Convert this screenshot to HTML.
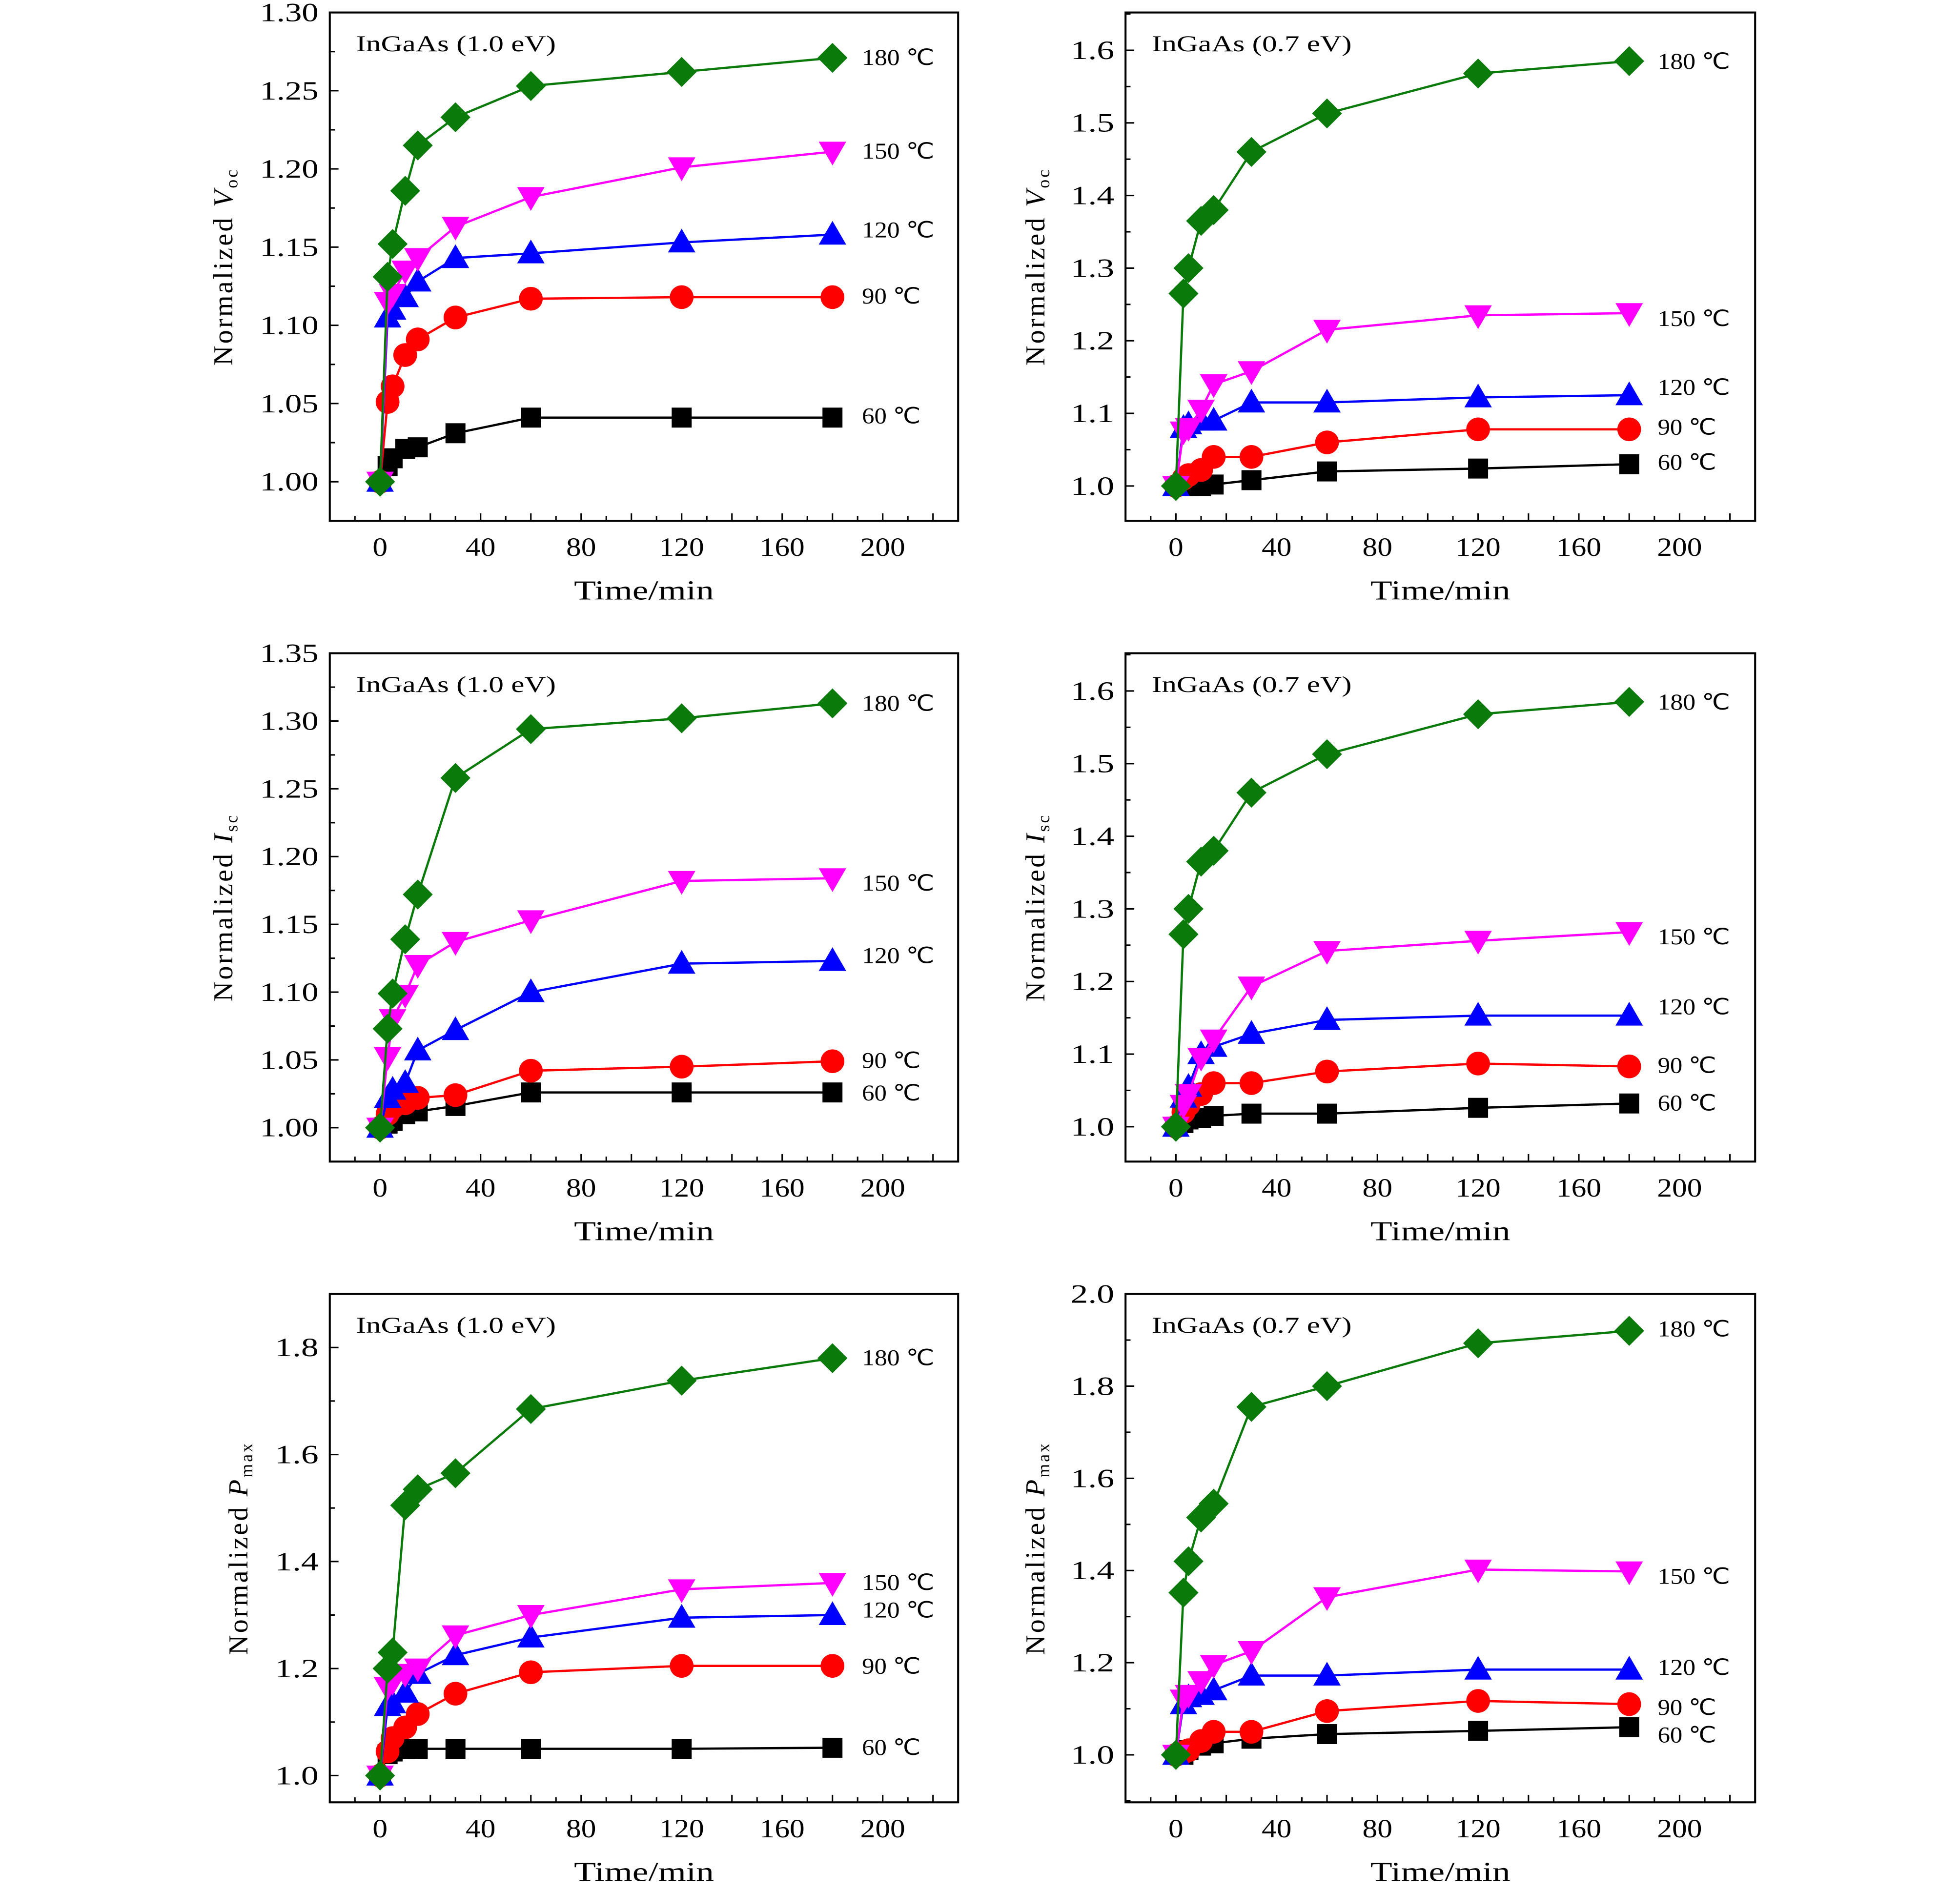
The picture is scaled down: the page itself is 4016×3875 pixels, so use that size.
<!DOCTYPE html>
<html><head><meta charset="utf-8"><style>
html,body{margin:0;padding:0;background:#fff;}
svg{display:block;}
text{font-family:"Liberation Serif",serif;fill:#000;}
</style></head><body>
<svg id="chart" xmlns="http://www.w3.org/2000/svg" width="4016" height="3875" viewBox="0 0 1569 1514" preserveAspectRatio="none"></svg>
<script>
const times = [0, 3, 5, 10, 15, 30, 60, 120, 180];
const seriesNames = ["60 ℃", "90 ℃", "120 ℃", "150 ℃", "180 ℃"];
const xTicks = [0, 40, 80, 120, 160, 200];
// Panel 1: Voc, 1.0 eV
const p1_60 = [1.00, 1.010, 1.015, 1.021, 1.022, 1.031, 1.041, 1.041, 1.041];
const p1_90 = [1.00, 1.051, 1.061, 1.081, 1.091, 1.105, 1.117, 1.118, 1.118];
const p1_120 = [1.00, 1.105, 1.110, 1.118, 1.128, 1.143, 1.146, 1.153, 1.158];
const p1_150 = [1.00, 1.115, 1.120, 1.135, 1.143, 1.163, 1.182, 1.201, 1.211];
const p1_180 = [1.00, 1.131, 1.152, 1.186, 1.215, 1.233, 1.253, 1.262, 1.271];
const p1_yTicks = [1.00, 1.05, 1.10, 1.15, 1.20, 1.25, 1.30];
// Panel 2: Voc, 0.7 eV
const p2_60 = [1.00, 1.00, 1.00, 1.000, 1.002, 1.008, 1.020, 1.024, 1.030];
const p2_90 = [1.00, 1.010, 1.015, 1.022, 1.040, 1.040, 1.060, 1.078, 1.078];
const p2_120 = [1.00, 1.080, 1.085, 1.090, 1.090, 1.115, 1.115, 1.122, 1.125];
const p2_150 = [1.00, 1.075, 1.080, 1.105, 1.140, 1.158, 1.215, 1.235, 1.238];
const p2_180 = [1.00, 1.265, 1.300, 1.365, 1.380, 1.460, 1.513, 1.568, 1.585];
const p2_yTicks = [1.0, 1.1, 1.2, 1.3, 1.4, 1.5, 1.6];
// Panel 3: Isc, 1.0 eV
const p3_60 = [1.00, 1.003, 1.005, 1.010, 1.012, 1.016, 1.026, 1.026, 1.026];
const p3_90 = [1.00, 1.010, 1.015, 1.018, 1.022, 1.024, 1.042, 1.045, 1.049];
const p3_120 = [1.00, 1.022, 1.028, 1.033, 1.057, 1.072, 1.100, 1.121, 1.123];
const p3_150 = [1.00, 1.052, 1.080, 1.098, 1.120, 1.137, 1.153, 1.182, 1.184];
const p3_180 = [1.00, 1.073, 1.099, 1.139, 1.172, 1.258, 1.294, 1.302, 1.313];
const p3_yTicks = [1.00, 1.05, 1.10, 1.15, 1.20, 1.25, 1.30, 1.35];
// Panel 4: Isc, 0.7 eV
const p4_60 = [1.00, 1.005, 1.010, 1.012, 1.015, 1.018, 1.018, 1.026, 1.032];
const p4_90 = [1.00, 1.020, 1.030, 1.045, 1.060, 1.060, 1.076, 1.087, 1.083];
const p4_120 = [1.00, 1.040, 1.055, 1.100, 1.110, 1.128, 1.147, 1.153, 1.153];
const p4_150 = [1.00, 1.030, 1.045, 1.095, 1.120, 1.193, 1.242, 1.256, 1.268];
const p4_180 = [1.00, 1.265, 1.300, 1.365, 1.380, 1.460, 1.513, 1.568, 1.585];
const p4_yTicks = [1.0, 1.1, 1.2, 1.3, 1.4, 1.5, 1.6];
// Panel 5: Pmax, 1.0 eV
const p5_60 = [1.00, 1.040, 1.045, 1.050, 1.050, 1.050, 1.050, 1.050, 1.052];
const p5_90 = [1.00, 1.045, 1.070, 1.090, 1.115, 1.153, 1.193, 1.205, 1.205];
const p5_120 = [1.00, 1.130, 1.135, 1.155, 1.190, 1.225, 1.258, 1.295, 1.300];
const p5_150 = [1.00, 1.165, 1.175, 1.190, 1.200, 1.262, 1.300, 1.348, 1.360];
const p5_180 = [1.00, 1.200, 1.230, 1.505, 1.535, 1.565, 1.685, 1.738, 1.780];
const p5_yTicks = [1.0, 1.2, 1.4, 1.6, 1.8];
// Panel 6: Pmax, 0.7 eV
const p6_60 = [1.00, 1.000, 1.010, 1.020, 1.025, 1.035, 1.045, 1.052, 1.060];
const p6_90 = [1.00, 1.005, 1.010, 1.030, 1.050, 1.050, 1.095, 1.117, 1.110];
const p6_120 = [1.00, 1.110, 1.125, 1.130, 1.140, 1.172, 1.172, 1.185, 1.185];
const p6_150 = [1.00, 1.120, 1.130, 1.160, 1.195, 1.225, 1.342, 1.402, 1.398];
const p6_180 = [1.00, 1.352, 1.420, 1.515, 1.545, 1.755, 1.800, 1.893, 1.920];
const p6_yTicks = [1.0, 1.2, 1.4, 1.6, 1.8, 2.0];

const colors = ["#000000", "#ff0000", "#0000ff", "#ff00ff", "#0a7a0a"];
const shapes = ["square", "circle", "up", "down", "diamond"];
const NS = "http://www.w3.org/2000/svg";
const svg = document.getElementById("chart");

const panels = [
  {x0:264, x1:767, y0:10, y1:417, ymin:0.975, ymax:1.30, dec:2, minorStep:0.025, ylab:"V", sub:"oc", title:"InGaAs (1.0 eV)", series:[p1_60,p1_90,p1_120,p1_150,p1_180], ticks:p1_yTicks, lab:[333,237,184,121,46], name:"voc-1ev"},
  {x0:901, x1:1405, y0:10, y1:417, ymin:0.952, ymax:1.652, dec:1, minorStep:0.05, ylab:"V", sub:"oc", title:"InGaAs (0.7 eV)", series:[p2_60,p2_90,p2_120,p2_150,p2_180], ticks:p2_yTicks, lab:[370,342,310,255,49], name:"voc-07ev"},
  {x0:264, x1:767, y0:523, y1:930, ymin:0.975, ymax:1.35, dec:2, minorStep:0.025, ylab:"I", sub:"sc", title:"InGaAs (1.0 eV)", series:[p3_60,p3_90,p3_120,p3_150,p3_180], ticks:p3_yTicks, lab:[875,849,765,707,563], name:"isc-1ev"},
  {x0:901, x1:1405, y0:523, y1:930, ymin:0.952, ymax:1.652, dec:1, minorStep:0.05, ylab:"I", sub:"sc", title:"InGaAs (0.7 eV)", series:[p4_60,p4_90,p4_120,p4_150,p4_180], ticks:p4_yTicks, lab:[883,853,806,750,562], name:"isc-07ev"},
  {x0:264, x1:767, y0:1036, y1:1443, ymin:0.95, ymax:1.90, dec:1, minorStep:0.1, ylab:"P", sub:"max", title:"InGaAs (1.0 eV)", series:[p5_60,p5_90,p5_120,p5_150,p5_180], ticks:p5_yTicks, lab:[1399,1334,1289,1267,1087], name:"pmax-1ev"},
  {x0:901, x1:1405, y0:1036, y1:1443, ymin:0.897, ymax:2.0, dec:1, minorStep:0.1, ylab:"P", sub:"max", title:"InGaAs (0.7 eV)", series:[p6_60,p6_90,p6_120,p6_150,p6_180], ticks:p6_yTicks, lab:[1389,1367,1335,1262,1064], name:"pmax-07ev"}
];

function mk(tag, attrs, parent){
  const e = document.createElementNS(NS, tag);
  for (const k in attrs) e.setAttribute(k, attrs[k]);
  (parent||svg).appendChild(e);
  return e;
}

panels.forEach((p, pi) => {
  const g = mk("g", {});
  
  
  const xs = t => p.x0 + (t + 20) / 250 * (p.x1 - p.x0);
  const ys = v => p.y1 - (v - p.ymin) / (p.ymax - p.ymin) * (p.y1 - p.y0);

  const frame = mk("rect", {x:p.x0, y:p.y0, width:p.x1-p.x0, height:p.y1-p.y0, fill:"none", stroke:"#000", "stroke-width":1.6}, g);
  
  

  for (let t = -10; t <= 220; t += 10) {
    const len = (t % 20 === 0) ? 6 : 4;
    mk("line", {x1:xs(t), x2:xs(t), y1:p.y1, y2:p.y1-len, stroke:"#000", "stroke-width":1.2}, g);
  }
  xTicks.forEach(t => {
    const s = String(t);
    const tx = mk("text", {x:xs(t), y:p.y1+28, "text-anchor":"middle", "font-size":21, textLength:s.length*12, lengthAdjust:"spacingAndGlyphs"}, g);
    tx.textContent = s;
    
    
  });
  const step = p.minorStep;
  for (let k = Math.ceil((p.ymin)/step - 1e-6); k*step <= p.ymax + 1e-9; k++) {
    const v = k * step;
    const isMajor = p.ticks.some(tv => Math.abs(tv - v) < 1e-6);
    mk("line", {x1:p.x0, x2:p.x0+(isMajor?7:4), y1:ys(v), y2:ys(v), stroke:"#000", "stroke-width":1.2}, g);
  }
  p.ticks.forEach(v => {
    const s = v.toFixed(p.dec);
    const w = s.length === 4 ? 47 : 35;
    const ty = mk("text", {x:p.x0-9, y:ys(v)+7, "text-anchor":"end", "font-size":21, textLength:w, lengthAdjust:"spacingAndGlyphs"}, g);
    ty.textContent = s;
    
    
  });
  const xt = mk("text", {x:(p.x0+p.x1)/2, y:p.y1+63, "text-anchor":"middle", "font-size":22, textLength:112, lengthAdjust:"spacingAndGlyphs"}, g);
  xt.textContent = "Time/min";
  
  
  const cy = (p.y0 + p.y1) / 2;
  const ax = (p.x0 === 264 ? (p.sub === "max" ? 198 : 186) : (p.sub === "max" ? 836 : 836));
  const yt = mk("text", {x:ax, y:cy, "text-anchor":"middle", "font-size":22, "letter-spacing":1.6, transform:"rotate(-90 "+ax+" "+cy+")"}, g);
  
  
  const s1 = mk("tspan", {}, yt); s1.textContent = "Normalized ";
  const s2 = mk("tspan", {"font-style":"italic"}, yt); s2.textContent = p.ylab;
  const s3 = mk("tspan", {"font-size":14, dy:4}, yt); s3.textContent = p.sub;
  const tt = mk("text", {x:p.x0+21, y:p.y0+31, "font-size":18, textLength:160, lengthAdjust:"spacingAndGlyphs"}, g);
  tt.textContent = p.title;
  
  

  p.series.forEach((vals, si) => {
    const sg = mk("g", {}, g);
    
    
    const pts = vals.map((v, i) => xs(times[i]).toFixed(2) + "," + ys(v).toFixed(2)).join(" ");
    const pl = mk("polyline", {points:pts, fill:"none", stroke:colors[si], "stroke-width":1.8}, sg);
    
    
    vals.forEach((v, i) => {
      const cx = xs(times[i]), cyy = ys(v), c = colors[si];
      let m;
      if (shapes[si] === "square") m = mk("rect", {x:cx-8, y:cyy-8, width:16, height:16, fill:c}, sg);
      else if (shapes[si] === "circle") m = mk("circle", {cx:cx, cy:cyy, r:9.5, fill:c}, sg);
      else if (shapes[si] === "up") m = mk("polygon", {points:`${cx},${cyy-11} ${cx+11},${cyy+8} ${cx-11},${cyy+8}`, fill:c}, sg);
      else if (shapes[si] === "down") m = mk("polygon", {points:`${cx},${cyy+11} ${cx+11},${cyy-8} ${cx-11},${cyy-8}`, fill:c}, sg);
      else m = mk("polygon", {points:`${cx},${cyy-12} ${cx+12},${cyy} ${cx},${cyy+12} ${cx-12},${cyy}`, fill:c}, sg);
      
      
    });
    const lw = seriesNames[si].length === 5 ? 58 : 47;
    const lt = mk("text", {x:p.x0+426, y:p.lab[si]+6, "font-size":18, textLength:lw, lengthAdjust:"spacingAndGlyphs"}, sg);
    lt.textContent = seriesNames[si];
    
    
  });
});
</script>
</body></html>
